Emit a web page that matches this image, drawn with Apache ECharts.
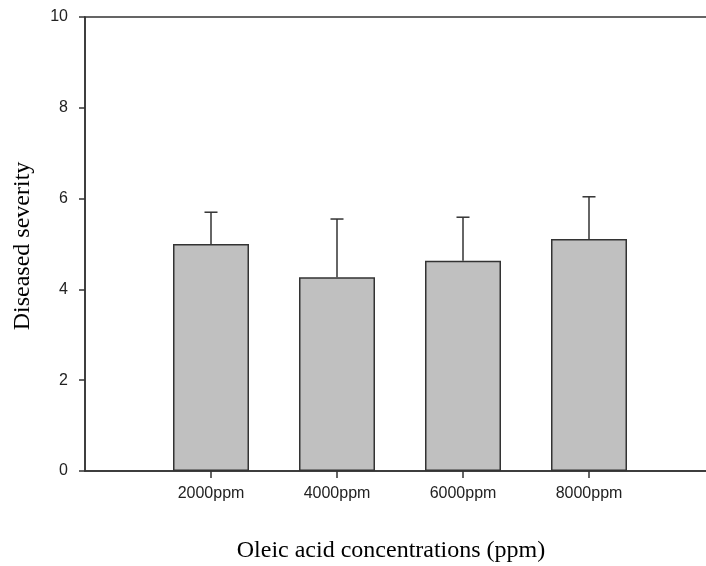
<!DOCTYPE html>
<html>
<head>
<meta charset="utf-8">
<script src="https://cdn.jsdelivr.net/npm/echarts@6/dist/echarts.min.js"></script>
<style>html,body{margin:0;padding:0;background:#fff}#c{width:706px;height:566px}</style>
</head>
<body>
<div id="c"></div>
<script>
const categories = ['2000ppm', '4000ppm', '6000ppm', '8000ppm'];
const positions = [1, 2, 3, 4];
const severity = [5.0, 4.27, 4.63, 5.11];
const errorUpper = [0.70, 1.28, 0.96, 0.93];
const yTicks = [0, 2, 4, 6, 8, 10];

const chart = echarts.init(document.getElementById('c'));
const barData = positions.map((p, i) => [p, severity[i]]);
const errData = positions.map((p, i) => [p, severity[i], severity[i] + errorUpper[i]]);
const lineCol = '#333';

chart.setOption({
  animation: false,
  grid: { left: 85, top: 17, right: -9, bottom: 95, outerBoundsMode: 'none', containLabel: false,
    show: true, borderColor: lineCol, borderWidth: 1.5, backgroundColor: 'transparent' },
  xAxis: {
    type: 'value', min: 0, max: 5,
    splitLine: { show: false },
    axisLine: { show: true, lineStyle: { color: lineCol, width: 1.5 } },
    axisTick: { show: true, customValues: positions, length: 7, lineStyle: { color: lineCol, width: 1.5 } },
    axisLabel: { show: true, customValues: positions, margin: 15, color: '#222', fontFamily: 'Liberation Sans, Arial', fontSize: 16,
      formatter: v => categories[positions.indexOf(v)] || '' }
  },
  yAxis: {
    type: 'value', min: 0, max: 10, interval: 2,
    splitLine: { show: false },
    axisLine: { show: true, lineStyle: { color: lineCol, width: 1.5 } },
    axisTick: { show: true, inside: false, length: 6, lineStyle: { color: lineCol, width: 1.5 } },
    axisLabel: { margin: 17, color: '#222', fontFamily: 'Liberation Sans, Arial', fontSize: 16,
      formatter: v => yTicks.includes(v) ? String(v) : '' }
  },
  graphic: [
    {
      type: 'text', x: 391, y: 551,
      style: { text: 'Oleic acid concentrations (ppm)', font: '24px "Liberation Serif", "Times New Roman", serif', fill: '#000', align: 'center', verticalAlign: 'middle' }
    },
    {
      type: 'text', x: 23, y: 246, rotation: Math.PI / 2,
      style: { text: 'Diseased severity', font: '24px "Liberation Serif", "Times New Roman", serif', fill: '#000', align: 'center', verticalAlign: 'middle' }
    }
  ],
  series: [
    {
      type: 'bar', data: barData, barWidth: 76,
      itemStyle: { color: '#c0c0c0', borderColor: lineCol, borderWidth: 1.5 }
    },
    {
      type: 'custom', data: errData, z: 1,
      renderItem: function (params, api) {
        const x = api.value(0);
        const top = api.coord([x, api.value(2)]);
        const base = api.coord([x, api.value(1)]);
        const hw = 6.5;
        const st = { stroke: lineCol, lineWidth: 1.5 };
        return { type: 'group', children: [
          { type: 'line', shape: { x1: top[0], y1: top[1], x2: base[0], y2: base[1] }, style: st },
          { type: 'line', shape: { x1: top[0] - hw, y1: top[1], x2: top[0] + hw, y2: top[1] }, style: st }
        ] };
      }
    }
  ]
});
</script>
</body>
</html>
